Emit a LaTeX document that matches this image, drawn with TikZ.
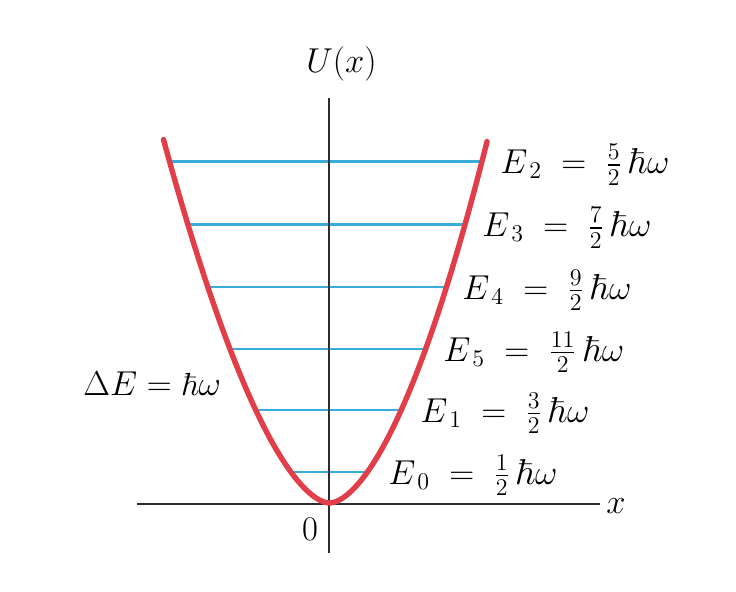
\documentclass[tikz,border=0pt]{standalone}
\usepackage{amsmath,amssymb}
\usepackage{xcolor}
\usepackage{tikz}
\usetikzlibrary{positioning}
\definecolor{potred}{RGB}{226,62,74}
\definecolor{levelblue}{RGB}{56,172,218}
\definecolor{axisgray}{RGB}{45,45,45}

\begin{document}
\begin{tikzpicture}[
    x=5pt, y=-5pt,
    axis/.style={draw=axisgray, line width=1pt},
    level/.style={draw=levelblue, line width=1.1pt},
    potential/.style={draw=potred, line width=2.7pt, line cap=round},
    lbl/.style={inner sep=0pt, font=\fontsize{16}{19}\selectfont, anchor=base west},
    energy/.style={lbl, font=\fontsize{18}{21}\selectfont}
]
    \useasboundingbox (0,0) rectangle (73.6,59.1);
    \foreach \n/\h in {0/3.1, 1/9.3, 5/15.4, 4/21.6, 3/27.85, 2/34.15} {
        \coordinate (lev\n-l) at ({32.95-(\h/0.3196)^0.5882-0.011*\h}, {50.3-\h});
        \coordinate (lev\n-r) at ({32.95+(\h/0.3196)^0.5882-0.011*\h}, {50.3-\h});
        \draw [level] (lev\n-l) -- (lev\n-r);
    }
    \coordinate (ytop) at (32.9,9.8);
    \coordinate (ybot) at (32.9,55.3);
    \coordinate (xleft) at (13.7,50.4);
    \coordinate (xright) at (60.0,50.4);
    \draw [axis] (ybot) -- (ytop);
    \draw [axis] (xleft) -- (xright);
    \draw [potential] plot [domain=-16.2:16.15, samples=121, smooth]
        ({32.95+\x-0.011*0.3196*((\x*\x+0.1)^0.85-0.1413)}, {50.3-0.3196*((\x*\x+0.1)^0.85-0.1413)});
    \node [lbl] (uaxis) at (30.6,7.2) {$U(x)$};
    \node [lbl] (xaxis) at (60.6,51.3) {$x$};
    \node [lbl, anchor=base] (origin) at (31.0,54.0) {$0$};
    \node [lbl] (deltaE) at (8.3,39.5) {$\Delta E=\hbar\omega$};
    \node [energy] (e2) at (50.0,17.35) {$E_{\,2}\;=\;\tfrac{5}{2}\,\hbar\omega$};
    \node [energy] (e3) at (48.2,23.65) {$E_{\,3}\;=\;\tfrac{7}{2}\,\hbar\omega$};
    \node [energy] (e4) at (46.2,29.9) {$E_{\,4}\;=\;\tfrac{9}{2}\,\hbar\omega$};
    \node [energy] (e5) at (44.3,36.1) {$E_{\,5}\;=\;\tfrac{11}{2}\,\hbar\omega$};
    \node [energy] (e1) at (42.0,42.2) {$E_{\,1}\;=\;\tfrac{3}{2}\,\hbar\omega$};
    \node [energy] (e0) at (38.8,48.4) {$E_{\,0}\;=\;\tfrac{1}{2}\,\hbar\omega$};
\end{tikzpicture}
\end{document}
